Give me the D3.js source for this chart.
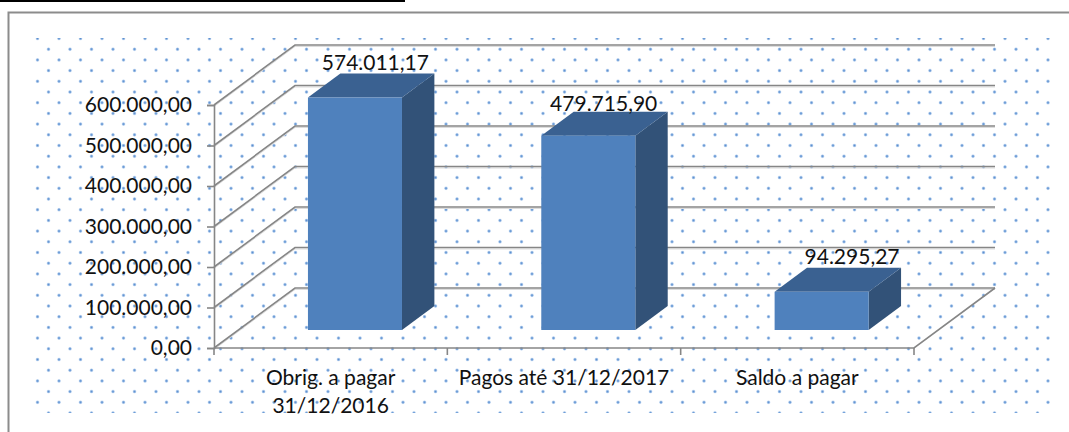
<!DOCTYPE html>
<html lang="pt">

<head>
    <meta charset="UTF-8">
    <title>Obrigações a pagar</title>
    <script src="https://cdn.jsdelivr.net/npm/d3@7"></script>
    <style>
        * {
            margin: 0;
            padding: 0;
        }

        body {
            background: #fff;
        }

        svg {
            display: block;
        }

        text {
            font-family: Lato, sans-serif;
            font-size: 21px;
            fill: #111;
        }
    </style>
</head>

<body>
    <div id="chart"></div>
    <script>
        const categories = [['Obrig. a pagar', '31/12/2016'], ['Pagos até 31/12/2017'], ['Saldo a pagar']];
        const values = [574011.17, 479715.90, 94295.27];
        const yTicks = [0, 100000, 200000, 300000, 400000, 500000, 600000];

        const svgWidth = 1069;
        const svgHeight = 432;

        // front plane of the 3d box
        const plot = { left: 214, right: 914, top: 105, bottom: 348 };

        // depth goes up and to the right
        const depthX = d3.scaleLinear().domain([0, 1]).range([0, 81]);
        const depthY = d3.scaleLinear().domain([0, 1]).range([0, -60]);
        const barDepthFrom = 0.3;
        const barDepthTo = 0.7;

        const gridColor = '#868686';
        const frontColor = '#4f81bd';
        const topColor = '#3a6191';
        const sideColor = '#325278';

        // manual shift of the value labels, from the centre of the bar top
        const labelShift = [-12, -17, -2];
        const labelLift = [12, 9, 12];

        const fmt = d3.formatLocale({ decimal: ',', thousands: '.', grouping: [3], currency: ['', ''] }).format(',.2f');

        const svg = d3.select('#chart')
            .append('svg')
            .attr('width', svgWidth)
            .attr('height', svgHeight);

        const defs = svg.append('defs');

        const dotGrad = defs.append('radialGradient').attr('id', 'dot');
        dotGrad.append('stop').attr('offset', '0%').attr('stop-color', '#5d8fcf');
        dotGrad.append('stop').attr('offset', '35%').attr('stop-color', '#76a3da');
        dotGrad.append('stop').attr('offset', '100%').attr('stop-color', '#e6effa');

        defs.append('clipPath').attr('id', 'dotClip')
            .append('rect')
            .attr('x', 30).attr('y', 38)
            .attr('width', 1023).attr('height', 375);

        // dotted chart background
        const dotsG = svg.append('g').attr('clip-path', 'url(#dotClip)');
        const rowStep = 10.7;
        const colStep = 21.5;
        d3.range(36).forEach(r => {
            const y = 38.5 + r * rowStep;
            const startX = r % 2 ? 48.5 : 37.5;
            d3.range(48).forEach(c => {
                const x = startX + c * colStep;
                if (x > 1053) return;
                dotsG.append('circle')
                    .attr('cx', x)
                    .attr('cy', y)
                    .attr('r', 2)
                    .attr('fill', 'url(#dot)');
            });
        });

        // chart frame, only top and left are visible
        svg.append('rect').attr('x', 0).attr('y', 0).attr('width', 405).attr('height', 2).attr('fill', '#000');
        svg.append('path')
            .attr('d', `M8.5 ${svgHeight}V12.5H${svgWidth}`)
            .attr('fill', 'none')
            .attr('stroke', '#8c8c8c')
            .attr('stroke-width', 2);

        const xScale = d3.scaleBand()
            .domain(d3.range(categories.length))
            .range([plot.left, plot.right])
            .paddingInner(0.597)
            .paddingOuter(0.2985);

        const yScale = d3.scaleLinear()
            .domain([0, 600000])
            .range([plot.bottom, plot.top]);

        // grid on the side wall and the back wall
        const dx = depthX(1);
        const dy = depthY(1);
        const grid = svg.append('g');

        grid.selectAll('path.shade')
            .data(yTicks)
            .enter()
            .append('path')
            .attr('class', 'shade')
            .attr('d', d => `M${plot.left} ${yScale(d) + 1.5}L${plot.left + dx} ${yScale(d) + dy + 1.5}H${plot.right + dx}`)
            .attr('fill', 'none')
            .attr('stroke', '#dcdcdc')
            .attr('stroke-width', 1);

        grid.selectAll('path.line')
            .data(yTicks)
            .enter()
            .append('path')
            .attr('class', 'line')
            .attr('d', d => `M${plot.left} ${yScale(d)}L${plot.left + dx} ${yScale(d) + dy}H${plot.right + dx}`)
            .attr('fill', 'none')
            .attr('stroke', gridColor)
            .attr('stroke-width', 1.6);

        // floor front edge and right edge
        svg.append('path')
            .attr('d', `M${plot.left} ${plot.bottom}H${plot.right}L${plot.right + dx} ${plot.bottom + dy}`)
            .attr('fill', 'none')
            .attr('stroke', gridColor)
            .attr('stroke-width', 1.6);

        // y axis
        const yAxisG = svg.append('g')
            .attr('transform', `translate(${plot.left},0)`)
            .call(d3.axisLeft(yScale).tickValues(yTicks).tickFormat(fmt).tickSize(7).tickPadding(15));
        yAxisG.selectAll('path, line').attr('stroke', gridColor).attr('stroke-width', 1.6);
        yAxisG.attr('font-size', null).attr('font-family', null);

        // x axis, ticks sit between the categories
        const xTickScale = d3.scaleLinear().domain([0, categories.length]).range([plot.left, plot.right]);
        svg.append('g')
            .selectAll('line')
            .data(d3.range(categories.length + 1))
            .enter()
            .append('line')
            .attr('x1', d => xTickScale(d))
            .attr('x2', d => xTickScale(d))
            .attr('y1', plot.bottom)
            .attr('y2', plot.bottom + 7)
            .attr('stroke', gridColor)
            .attr('stroke-width', 1.6);

        const catLabels = svg.append('g')
            .selectAll('text')
            .data(categories)
            .enter()
            .append('text')
            .attr('text-anchor', 'middle')
            .attr('y', 385);

        catLabels.selectAll('tspan')
            .data((d, i) => d.map(t => ({ t, i })))
            .enter()
            .append('tspan')
            .attr('x', d => xScale(d.i) + xScale.bandwidth() / 2)
            .attr('dy', (d, i) => i ? 28 : 0)
            .text(d => d.t);

        // bars
        const barDx = depthX(barDepthFrom);
        const barDy = depthY(barDepthFrom);
        const sideDx = depthX(barDepthTo - barDepthFrom);
        const sideDy = depthY(barDepthTo - barDepthFrom);
        const bars = svg.append('g')
            .selectAll('g')
            .data(values)
            .enter()
            .append('g')
            .attr('transform', `translate(${barDx},${barDy})`);

        bars.append('path')
            .attr('d', (d, i) => {
                const x1 = xScale(i) + xScale.bandwidth();
                return `M${x1} ${yScale(d)}l${sideDx} ${sideDy}V${yScale(0) + sideDy}L${x1} ${yScale(0)}Z`;
            })
            .attr('fill', sideColor);

        bars.append('path')
            .attr('d', (d, i) => `M${xScale(i)} ${yScale(d)}l${sideDx} ${sideDy}h${xScale.bandwidth()}l${-sideDx} ${-sideDy}Z`)
            .attr('fill', topColor);

        bars.append('rect')
            .attr('x', (d, i) => xScale(i))
            .attr('y', d => yScale(d))
            .attr('width', xScale.bandwidth())
            .attr('height', d => yScale(0) - yScale(d))
            .attr('fill', frontColor);

        bars.append('text')
            .attr('text-anchor', 'middle')
            .attr('dominant-baseline', 'central')
            .attr('x', (d, i) => xScale(i) + xScale.bandwidth() / 2 + sideDx + labelShift[i])
            .attr('y', (d, i) => yScale(d) + sideDy - labelLift[i])
            .text(d => fmt(d));
    </script>
</body>

</html>
